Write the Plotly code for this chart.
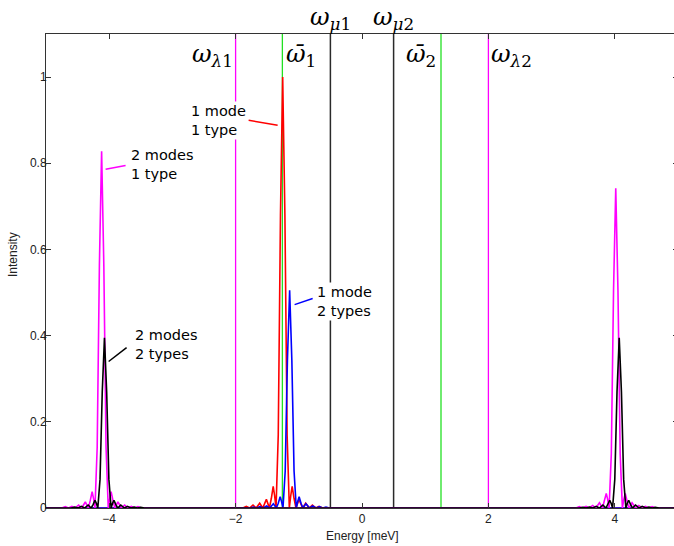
import plotly.graph_objects as go

# ---------------- data ----------------
red_x = [-5, -1.885, -1.830, -1.780, -1.725, -1.675, -1.619, -1.570, -1.513, -1.465, -1.435, -1.405, -1.383, -1.360,
         -1.325, -1.290, -1.255, -1.220, -1.185, -1.150, -1.127, -1.105, -1.075, -1.045, -0.997, -0.940, -0.891,
         -0.835, -0.785, -0.730, -0.680, -0.625, 5]
red_y = [0, 0, 0.004, 0, 0.007, 0, 0.011, 0, 0.020, 0, 0.022, 0.050, 0.029, 0,
         0.17, 0.68, 1.0, 0.68, 0.17, 0, 0.029, 0.050, 0.022, 0, 0.020, 0, 0.011,
         0, 0.007, 0, 0.004, 0, 0]

blue_x = [-5, -1.775, -1.720, -1.670, -1.615, -1.565, -1.509, -1.460, -1.403, -1.355, -1.325, -1.295, -1.273, -1.250,
          -1.215, -1.180, -1.145, -1.110, -1.075, -1.040, -1.017, -0.995, -0.965, -0.935, -0.887, -0.830, -0.781,
          -0.725, -0.675, -0.620, -0.570, -0.515, 5]
blue_y = [0, 0, 0.002, 0, 0.003, 0, 0.005, 0, 0.010, 0, 0.011, 0.026, 0.015, 0,
          0.086, 0.343, 0.505, 0.343, 0.086, 0, 0.015, 0.026, 0.011, 0, 0.010, 0, 0.005,
          0, 0.003, 0, 0.002, 0, 0]

magenta_x = [-5, -4.750, -4.695, -4.645, -4.590, -4.540, -4.484, -4.435, -4.378, -4.330, -4.300, -4.270, -4.248, -4.225,
             -4.190, -4.155, -4.120, -4.085, -4.050, -4.015, -3.992, -3.970, -3.940, -3.910, -3.862, -3.805, -3.756,
             -3.700, -3.650, -3.595, -3.545, -3.490,
             3.385, 3.440, 3.490, 3.545, 3.595, 3.651, 3.700, 3.757, 3.805, 3.835, 3.865, 3.887, 3.910,
             3.945, 3.980, 4.015, 4.050, 4.085, 4.120, 4.143, 4.165, 4.195, 4.225, 4.273, 4.330, 4.379,
             4.435, 4.485, 4.540, 4.590, 4.645, 5]
magenta_y = [0, 0, 0.003, 0, 0.004, 0, 0.007, 0, 0.014, 0, 0.017, 0.038, 0.022, 0,
             0.141, 0.563, 0.828, 0.563, 0.141, 0, 0.022, 0.038, 0.017, 0, 0.014, 0, 0.007,
             0, 0.004, 0, 0.003, 0,
             0, 0.003, 0, 0.004, 0, 0.006, 0, 0.012, 0, 0.015, 0.034, 0.020, 0,
             0.126, 0.505, 0.742, 0.505, 0.126, 0, 0.020, 0.034, 0.015, 0, 0.012, 0, 0.006,
             0, 0.004, 0, 0.003, 0, 0]

black_x = [-5, -4.705, -4.650, -4.600, -4.545, -4.495, -4.439, -4.390, -4.333, -4.285, -4.255, -4.225, -4.203, -4.180,
           -4.145, -4.110, -4.075, -4.040, -4.005, -3.970, -3.947, -3.925, -3.895, -3.865, -3.817, -3.760, -3.711,
           -3.655, -3.605, -3.550, -3.500, -3.445,
           3.440, 3.495, 3.545, 3.600, 3.650, 3.706, 3.755, 3.812, 3.860, 3.890, 3.920, 3.942, 3.965,
           4.000, 4.035, 4.070, 4.105, 4.140, 4.175, 4.198, 4.220, 4.250, 4.280, 4.328, 4.385, 4.434,
           4.490, 4.540, 4.590, 4.640, 4.700, 5]
black_y = [0, 0, 0.0015, 0, 0.002, 0, 0.004, 0, 0.007, 0, 0.008, 0.018, 0.011, 0,
           0.067, 0.269, 0.395, 0.269, 0.067, 0, 0.011, 0.018, 0.008, 0, 0.007, 0, 0.004,
           0, 0.002, 0, 0.0015, 0,
           0, 0.0015, 0, 0.002, 0, 0.004, 0, 0.007, 0, 0.008, 0.018, 0.011, 0,
           0.067, 0.269, 0.395, 0.269, 0.067, 0, 0.011, 0.018, 0.008, 0, 0.007, 0, 0.004,
           0, 0.002, 0, 0.0015, 0, 0]

lambda_lines = [-2.0, 2.0]      # omega_lambda1, omega_lambda2
omegabar_lines = [-1.26, 1.25]  # omega-bar 1, 2
mu_lines = [-0.5, 0.5]          # omega_mu1, omega_mu2

x_ticks = [-4, -2, 0, 2, 4]
y_ticks = [0, 0.2, 0.4, 0.6, 0.8, 1]
y_ticktext = ["0", "0.2", "0.4", "0.6", "0.8", "1"]
Y_TOP = 1.1

# ---------------- figure ----------------
fig = go.Figure()

# vertical reference lines first (curves drawn over them)
for vals, col, w in [(lambda_lines, "#ff00ff", 1.3), (omegabar_lines, "#22e022", 1.3), (mu_lines, "#2a2a2a", 1.5)]:
    for v in vals:
        fig.add_trace(go.Scatter(x=[v, v], y=[0, Y_TOP], mode="lines", line=dict(color=col, width=w),
                                 hoverinfo="skip", showlegend=False))

for xs, ys, col in [(red_x, red_y, "#ff0000"), (blue_x, blue_y, "#0000ff"),
                    (magenta_x, magenta_y, "#ff00ff"), (black_x, black_y, "#000000")]:
    fig.add_trace(go.Scatter(x=xs, y=ys, mode="lines", line=dict(color=col, width=1.6),
                             hoverinfo="skip", showlegend=False))

annots = []
serif = dict(family="DejaVu Serif", size=24, color="black")
annots.append(dict(x=mu_lines[0], y=1.032, xref="x", yref="paper", text="<i>ω</i><sub><i>μ</i>1</sub>",
                   showarrow=False, font=serif, xanchor="center", yanchor="middle"))
annots.append(dict(x=mu_lines[1], y=1.032, xref="x", yref="paper", text="<i>ω</i><sub><i>μ</i>2</sub>",
                   showarrow=False, font=serif, xanchor="center", yanchor="middle"))
annots.append(dict(x=lambda_lines[0], y=0.955, xref="x", yref="paper", text="<i>ω</i><sub><i>λ</i>1</sub>",
                   showarrow=False, font=serif, xanchor="right", yanchor="middle", xshift=-1))
annots.append(dict(x=lambda_lines[1], y=0.955, xref="x", yref="paper", text="<i>ω</i><sub><i>λ</i>2</sub>",
                   showarrow=False, font=serif, xanchor="left", yanchor="middle", xshift=1))
annots.append(dict(x=omegabar_lines[0], y=0.955, xref="x", yref="paper", text="<i>ω̄</i><sub>1</sub>",
                   showarrow=False, font=serif, xanchor="left", yanchor="middle", xshift=2))
annots.append(dict(x=omegabar_lines[1], y=0.955, xref="x", yref="paper", text="<i>ω̄</i><sub>2</sub>",
                   showarrow=False, font=serif, xanchor="right", yanchor="middle", xshift=-3))

sans = dict(family="DejaVu Sans", size=14.5, color="black")
for tx, xx, yy in [("1 mode<br>1 type", -2.74, 0.900), ("2 modes<br>1 type", -3.69, 0.798),
                   ("2 modes<br>2 types", -3.63, 0.379), ("1 mode<br>2 types", -0.75, 0.480)]:
    annots.append(dict(x=xx, y=yy, xref="x", yref="y", text=tx, showarrow=False, font=sans,
                       xanchor="left", yanchor="middle", align="left", bgcolor="white", borderpad=1))

tfont = dict(family="Liberation Sans", size=12, color="#222222")
annots.append(dict(x=0, y=-0.059, xref="x", yref="paper", text="Energy [meV]", showarrow=False,
                   font=tfont, xanchor="center", yanchor="middle"))
annots.append(dict(x=-0.052, y=0.534, xref="paper", yref="paper", text="Intensity", showarrow=False,
                   font=tfont, xanchor="center", yanchor="middle", textangle=-90))

shapes = []
for (x0, y0, x1, y1, col) in [(-1.794, 0.900, -1.335, 0.888, "#ff0000"),
                              (-4.057, 0.786, -3.741, 0.795, "#ff00ff"),
                              (-4.009, 0.340, -3.725, 0.372, "#000000"),
                              (-1.066, 0.472, -0.781, 0.486, "#0000ff")]:
    shapes.append(dict(type="line", xref="x", yref="y", x0=x0, y0=y0, x1=x1, y1=y1,
                       line=dict(color=col, width=1.5)))

# plot box at 46..678 x 34..508; the right edge (x=5) lies just past the 674px window, as in the reference
fig.update_layout(
    width=678, height=546,
    margin=dict(l=46, r=0, t=34, b=38),
    paper_bgcolor="white", plot_bgcolor="white",
    showlegend=False,
    annotations=annots, shapes=shapes,
    xaxis=dict(range=[-5, 5], tickvals=x_ticks, ticks="inside", ticklen=5, tickcolor="#333333",
               showline=True, linecolor="#333333", linewidth=1, mirror="ticks",
               showgrid=False, zeroline=False,
               tickfont=dict(family="Liberation Sans", size=12, color="#222222")),
    yaxis=dict(range=[0, Y_TOP], tickvals=y_ticks, ticktext=y_ticktext, ticks="inside", ticklen=5,
               tickcolor="#333333", showline=True, linecolor="#333333", linewidth=1, mirror="ticks",
               showgrid=False, zeroline=False, ticklabelstandoff=-4,
               tickfont=dict(family="Liberation Sans", size=12, color="#222222")),
)

# remove the default page margin so the figure sits at the window's top-left corner
fig.write_html("out.html", config={"displayModeBar": False},
               post_script="document.body.style.margin='0';document.body.style.overflow='hidden';")
